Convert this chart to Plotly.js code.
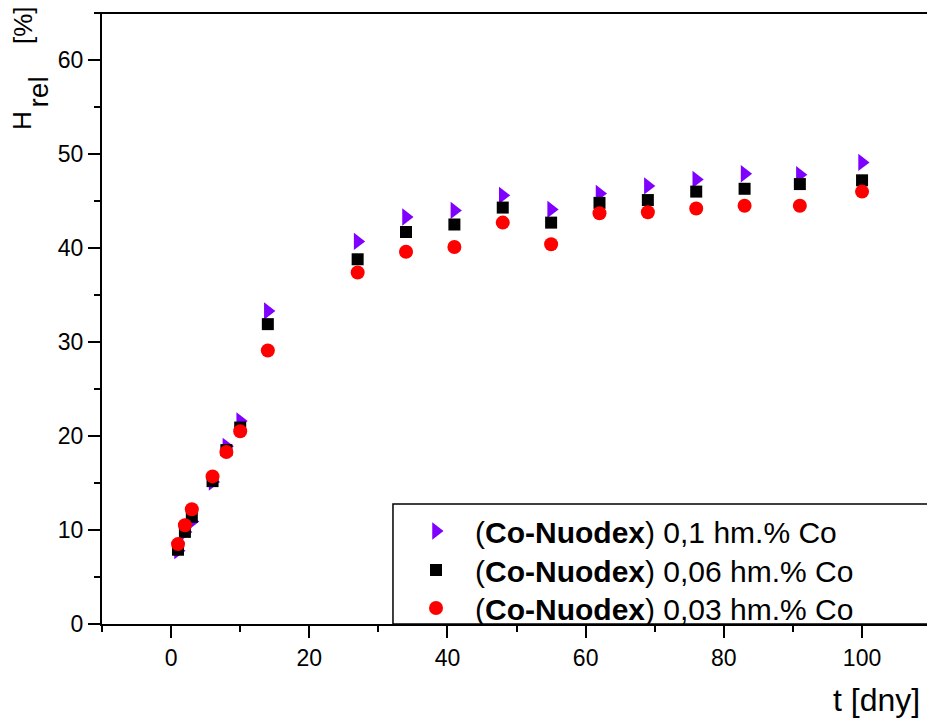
<!DOCTYPE html>
<html>
<head>
<meta charset="utf-8">
<script src="https://cdn.plot.ly/plotly-3.0.1.min.js"></script>
<style>html,body{margin:0;padding:0;background:#fff;}#chart{width:927px;height:720px;}</style>
</head>
<body>
<div id="chart"></div>
<script>
// Time in days
const t = [1, 2, 3, 6, 8, 10, 14, 27, 34, 41, 48, 55, 62, 69, 76, 83, 91, 100];
// H_rel [%] for each Co-Nuodex concentration
const hCo010 = [7.8, 9.8, 10.9, 15.1, 18.9, 21.6, 33.3, 40.7, 43.3, 44.0, 45.6, 44.1, 45.8, 46.6, 47.3, 47.9, 47.8, 49.1];
const hCo006 = [7.9, 9.8, 11.4, 15.2, 18.5, 20.9, 31.9, 38.8, 41.7, 42.5, 44.3, 42.7, 44.8, 45.1, 46.0, 46.3, 46.8, 47.2];
const hCo003 = [8.5, 10.5, 12.2, 15.7, 18.3, 20.5, 29.1, 37.4, 39.6, 40.1, 42.7, 40.4, 43.7, 43.8, 44.2, 44.5, 44.5, 46.0];
const seriesNames = [
  "(<b>Co-Nuodex</b>) 0,1 hm.% Co",
  "(<b>Co-Nuodex</b>) 0,06 hm.% Co",
  "(<b>Co-Nuodex</b>) 0,03 hm.% Co"
];
const xTitle = "t [dny]";
const yTitleMain = "H";
const yTitleSub = "rel";
const yTitleUnit = "[%]";

const FONT = "Arial, 'Liberation Sans', sans-serif";

const traces = [
  {x: t, y: hCo010, name: seriesNames[0], type: "scatter", mode: "markers", legend: "legend",
   marker: {symbol: "triangle-right", size: 15, color: "#7f00ff", line: {width: 0}}},
  {x: t, y: hCo006, name: seriesNames[1], type: "scatter", mode: "markers", legend: "legend2",
   marker: {symbol: "square", size: 12, color: "#000000", line: {width: 0}}},
  {x: t, y: hCo003, name: seriesNames[2], type: "scatter", mode: "markers", legend: "legend3",
   marker: {symbol: "circle", size: 14, color: "#ff0000", line: {width: 0}}}
];

function legendAt(yPaper) {
  return {
    x: 0.3576, y: yPaper, xanchor: "left", yanchor: "middle",
    bgcolor: "rgba(255,255,255,0)", borderwidth: 0,
    font: {family: FONT, size: 30, color: "#000"},
    itemwidth: 68
  };
}

const layout = {
  width: 927, height: 720,
  margin: {l: 102, r: 0, t: 13, b: 96, pad: 0},
  paper_bgcolor: "#fff", plot_bgcolor: "#fff",
  font: {family: FONT, color: "#000", size: 23},
  showlegend: true,
  legend: legendAt(0.1522),
  legend2: legendAt(0.0884),
  legend3: legendAt(0.0262),
  xaxis: {
    range: [-10, 109.4], showgrid: false, zeroline: false,
    showline: true, linecolor: "#000", linewidth: 2,
    ticks: "outside", ticklen: 12, tickwidth: 2, tickcolor: "#000",
    tick0: 0, dtick: 20,
    minor: {ticks: "outside", dtick: 10, tick0: 0, ticklen: 6, tickwidth: 2, tickcolor: "#000"},
    tickfont: {family: FONT, size: 23, color: "#000"}
  },
  yaxis: {
    range: [0, 65], showgrid: false, zeroline: false,
    showline: true, linecolor: "#000", linewidth: 2,
    ticks: "outside", ticklen: 12, tickwidth: 2, tickcolor: "#000",
    tick0: 0, dtick: 10,
    minor: {ticks: "outside", dtick: 5, tick0: 0, ticklen: 6, tickwidth: 2, tickcolor: "#000"},
    tickfont: {family: FONT, size: 23, color: "#000"}
  },
  shapes: [
    {type: "line", xref: "paper", yref: "paper", x0: -0.008, x1: 1, y0: 1, y1: 1,
     line: {color: "#000", width: 2}},
    {type: "rect", xref: "paper", yref: "paper", x0: 0.3527, x1: 1.01, y0: 0, y1: 0.1964,
     line: {color: "#000", width: 1.5}, fillcolor: "rgba(0,0,0,0)", layer: "below"}
  ],
  annotations: [
    {text: xTitle, xref: "paper", yref: "paper", x: 0.9939, y: -0.124,
     xanchor: "right", yanchor: "middle", showarrow: false,
     font: {family: FONT, size: 32, color: "#000"}},
    {text: yTitleMain, xref: "paper", yref: "paper", x: (22.5 - 102) / 825, y: (624 - 120.5) / 611,
     xanchor: "center", yanchor: "middle", textangle: -90, showarrow: false,
     font: {family: FONT, size: 26, color: "#000"}},
    {text: yTitleSub, xref: "paper", yref: "paper", x: (38 - 102) / 825, y: (624 - 92.5) / 611,
     xanchor: "center", yanchor: "middle", textangle: -90, showarrow: false,
     font: {family: FONT, size: 28, color: "#000"}},
    {text: yTitleUnit, xref: "paper", yref: "paper", x: (23 - 102) / 825, y: (624 - 25) / 611,
     xanchor: "center", yanchor: "middle", textangle: -90, showarrow: false,
     font: {family: FONT, size: 26, color: "#000"}}
  ]
};

Plotly.newPlot("chart", traces, layout, {displayModeBar: false, staticPlot: true});
</script>
</body>
</html>
